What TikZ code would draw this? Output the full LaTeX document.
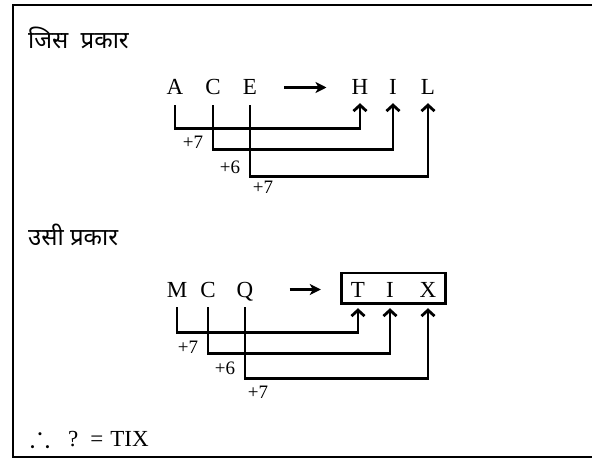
\documentclass[tikz,border=0pt]{standalone}
\usepackage{amssymb}
\usepackage{fontspec}
\setmainfont{Liberation Serif}
\newfontfamily\hindi[Script=Devanagari]{Noto Sans}
\usetikzlibrary{arrows.meta,fit}

\tikzset{
  letter/.style={font=\fontsize{23}{27}\selectfont, inner sep=0pt,
    text height=15pt, text depth=0pt, anchor=base},
  shiftlabel/.style={font=\fontsize{19}{22}\selectfont, inner sep=0pt},
  hinditext/.style={font=\hindi\fontsize{24}{28}\selectfont, anchor=west, inner sep=0pt},
  link/.style={line width=2.8pt, shorten <=10pt,
    -{Straight Barb[length=6pt,width=13pt,line width=2.8pt]}},
  maparrow/.style={line width=2.6pt, -{Stealth[length=11pt,width=11pt,inset=3pt]}},
}

\begin{document}
\begin{tikzpicture}[x=1pt, y=-1pt]
    \useasboundingbox (0,0) rectangle (592,460);
    \clip (0,0) rectangle (592,460);

    % Frame, open at the right edge.
    \draw[line width=2.8pt] (600,5) -- (13,5) -- (13,457) -- (600,457);

    % First example.
    \node[hinditext] (first) at (28,38) {जिस\hspace{6pt} प्रकार};

    \node[letter] (A) at (175,95) {A};
    \node[letter] (C) at (213,95) {C};
    \node[letter] (E) at (250,95) {E};
    \node[letter] (H) at (360,95) {H};
    \node[letter] (I) at (393,95) {I};
    \node[letter] (L) at (428,95) {L};

    \draw[maparrow, shorten <=27pt, shorten >=25pt] (E.east) -- (H.west);

    \draw[link, shorten >=8pt] (A.south) -- ++(0,33) -| (H.south);
    \draw[link, shorten >=8pt] (C.south) -- ++(0,54) -| (I.south);
    \draw[link, shorten >=8pt] (E.south) -- ++(0,81) -| (L.south);

    \node[shiftlabel] (ac) at (193,142) {+7};
    \node[shiftlabel] (ci) at (230,167) {+6};
    \node[shiftlabel] (el) at (263,187) {+7};

    % Second example.
    \node[hinditext] (second) at (28,235) {उसी प्रकार};

    \node[letter] (M) at (177,297) {M};
    \node[letter] (C2) at (208,297) {C};
    \node[letter] (Q) at (245,297) {Q};
    \node[letter] (T) at (358,297) {T};
    \node[letter] (I2) at (390,297) {I};
    \node[letter] (X) at (428,297) {X};
    \node[draw, line width=2.6pt, fit=(T)(I2)(X), inner xsep=9pt,
      inner ysep=7.5pt, yshift=1.5pt] (answer) {};

    \draw[maparrow, shorten <=36pt, shorten >=30pt] (Q.east) -- (T.west);

    \draw[link, shorten >=11pt] (M.south) -- ++(0,35) -| (T.south);
    \draw[link, shorten >=11pt] (C2.south) -- ++(0,56) -| (I2.south);
    \draw[link, shorten >=11pt] (Q.south) -- ++(0,81) -| (X.south);

    \node[shiftlabel] (mt) at (188,347) {+7};
    \node[shiftlabel] (ci2) at (225,368) {+6};
    \node[shiftlabel] (qx) at (258,392) {+7};

    % Conclusion.
    \node[letter, anchor=base west] (result) at (30,446)
      {\scalebox{1.3}{$\therefore$}\hspace{18pt}?\hspace{12pt}=\hspace{7pt}TIX};
\end{tikzpicture}
\end{document}
